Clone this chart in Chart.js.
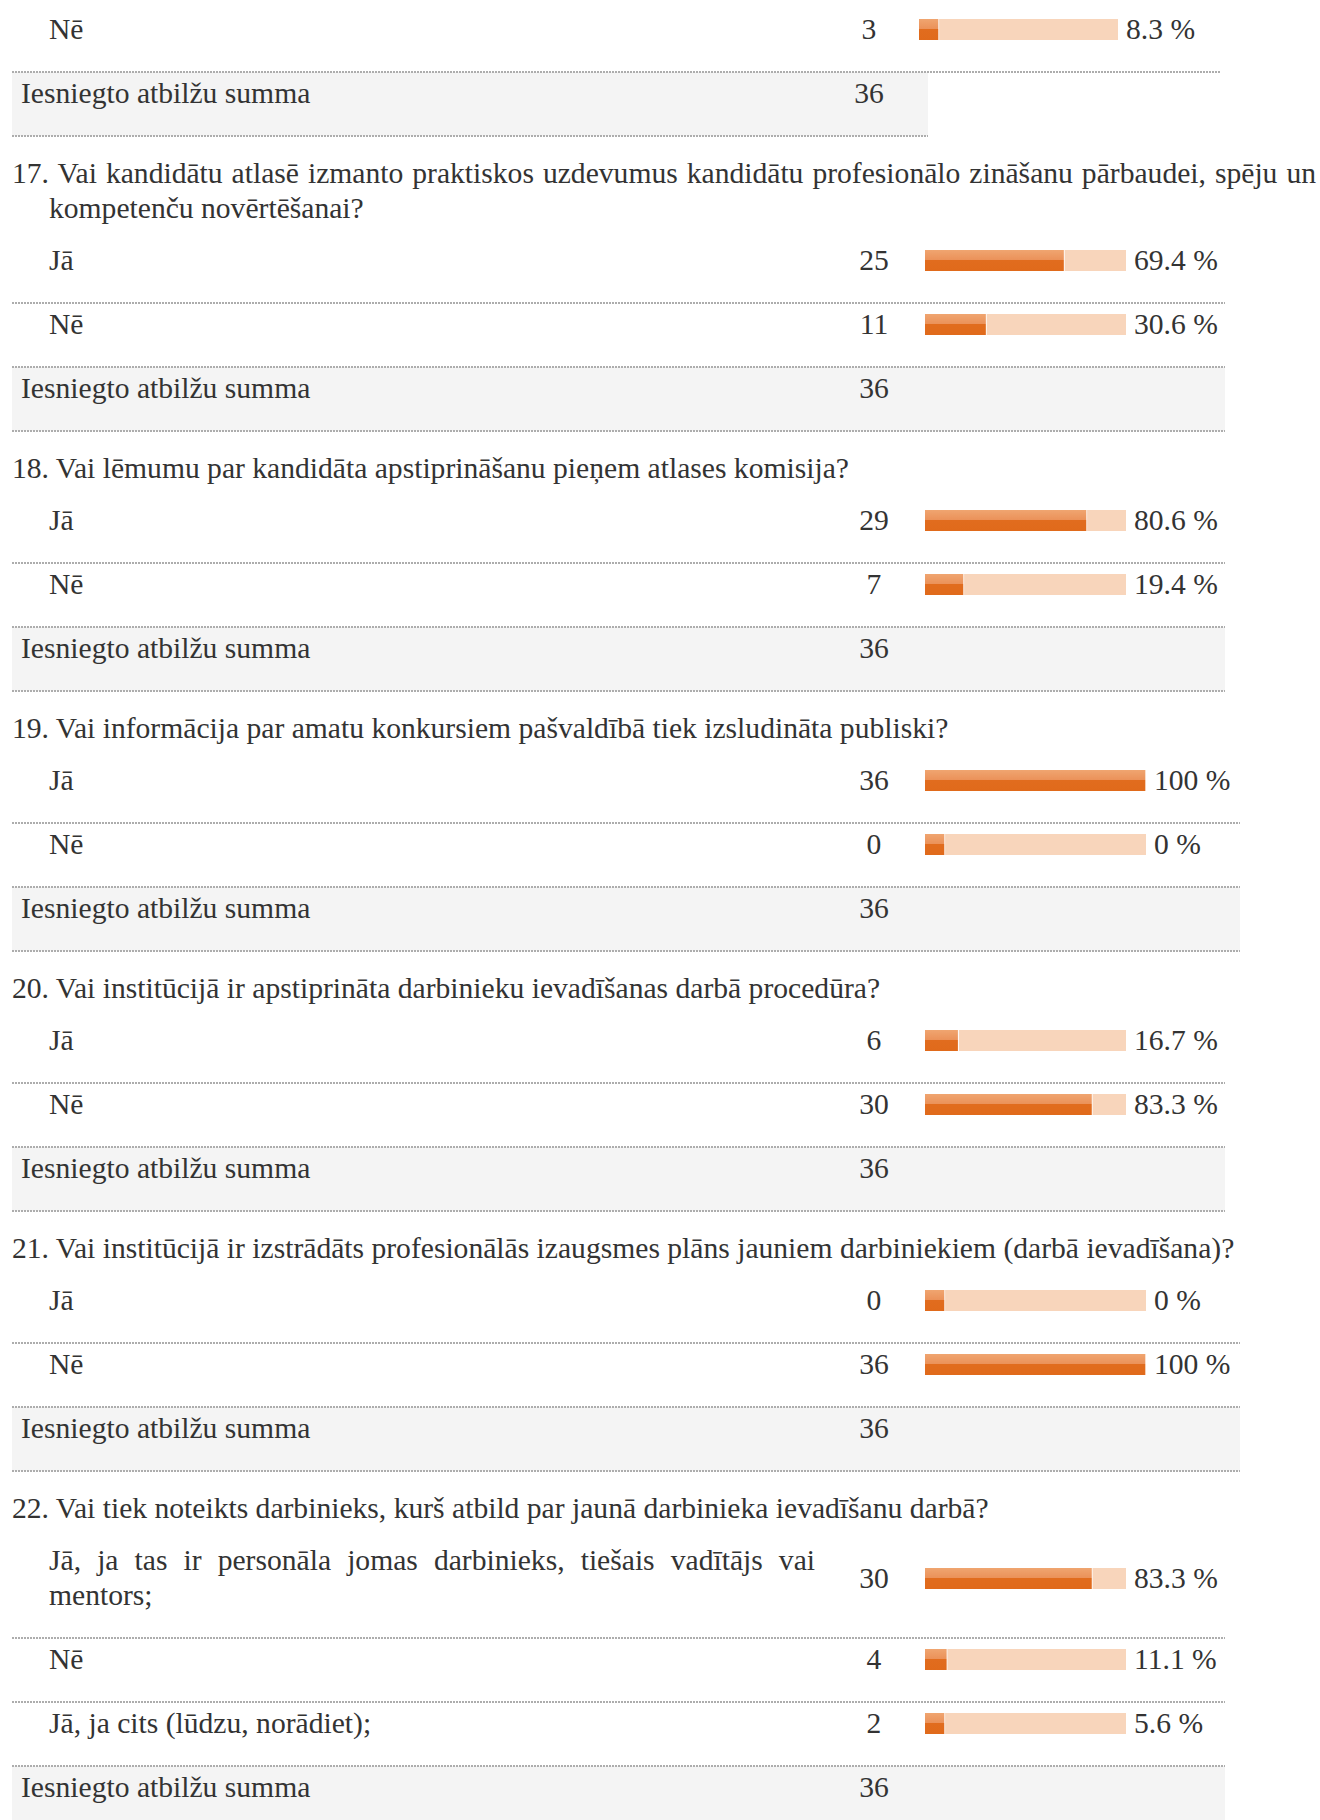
<!DOCTYPE html>
<html lang="lv">
<head>
<meta charset="utf-8">
<title>Aptaujas rezultāti</title>
<script src="https://cdn.jsdelivr.net/npm/chart.js@4.4.1/dist/chart.umd.min.js"></script>
<style>
	html, body { margin: 0; padding: 0; background: #fff; }
	body {
		width: 1320px;
		height: 1820px;
		overflow: hidden;
		font-family: "Liberation Serif", "Times New Roman", serif;
		font-size: 29.6px;
		color: #333;
	}
	#survey { padding-top: 8px; }
	.question {
		margin: 20px 4px 13px 12px;
		padding-left: 37px;
		text-indent: -37px;
		line-height: 35px;
		text-align: justify;
	}
	.answers { margin-left: 12px; }
	.row { position: relative; }
	.row .label {
		padding: 4px 0 25px 37px;
		width: 766px;
		line-height: 35px;
		text-align: justify;
	}
	.side { position: absolute; left: 0; top: 50%; height: 64px; margin-top: -32px; width: 100%; }
	.count { position: absolute; top: 4px; width: 80px; text-align: center; line-height: 35px; }
	.bar { position: absolute; top: 11px; height: 21px; }
	.pct { position: absolute; top: 4px; line-height: 35px; white-space: nowrap; }
	.total { position: relative; height: 64px; background: #f4f4f4; }
	.total .label { padding: 4px 0 0 9px; line-height: 35px; }
	.rule {
		position: relative;
		z-index: 1;
		height: 2px;
		margin: -1px 0;
		background: repeating-linear-gradient(90deg, #adadad 0 2px, transparent 2px 3px);
	}
</style>
</head>
<body>
<div id="survey"></div>

<script>
// Survey answers, question by question (the first block is the end of question 16)
const questions = [
	null,
	"17. Vai kandidātu atlasē izmanto praktiskos uzdevumus kandidātu profesionālo zināšanu pārbaudei, spēju un kompetenču novērtēšanai?",
	"18. Vai lēmumu par kandidāta apstiprināšanu pieņem atlases komisija?",
	"19. Vai informācija par amatu konkursiem pašvaldībā tiek izsludināta publiski?",
	"20. Vai institūcijā ir apstiprināta darbinieku ievadīšanas darbā procedūra?",
	"21. Vai institūcijā ir izstrādāts profesionālās izaugsmes plāns jauniem darbiniekiem (darbā ievadīšana)?",
	"22. Vai tiek noteikts darbinieks, kurš atbild par jaunā darbinieka ievadīšanu darbā?",
];
const answerLabels = [
	["Nē"],
	["Jā", "Nē"],
	["Jā", "Nē"],
	["Jā", "Nē"],
	["Jā", "Nē"],
	["Jā", "Nē"],
	["Jā, ja tas ir personāla jomas darbinieks, tiešais vadītājs vai mentors;", "Nē", "Jā, ja cits (lūdzu, norādiet);"],
];
const answerCounts = [[3], [25, 11], [29, 7], [36, 0], [6, 30], [0, 36], [30, 4, 2]];
const answerPercents = [[8.3], [69.4, 30.6], [80.6, 19.4], [100, 0], [16.7, 83.3], [0, 100], [83.3, 11.1, 5.6]];
const responseTotals = [36, 36, 36, 36, 36, 36, 36];
const totalLabel = "Iesniegto atbilžu summa";

// Table geometry for each block (page pixels)
const tableRight = [1220, 1225, 1225, 1240, 1225, 1240, 1225];
const totalRight = [928, 1225, 1225, 1240, 1225, 1240, 1225];
const countCenter = [869, 874, 874, 874, 874, 874, 874];
const barLeft = [919, 925, 925, 925, 925, 925, 925];
const barWidth = [199, 201, 201, 221, 201, 221, 201];
const TABLE_LEFT = 12;

const PEACH = "#f8d5bb";

function orangeFill(context) {
	const chart = context.chart;
	const area = chart.chartArea;
	if (!area) return "#e06a1b";
	const g = chart.ctx.createLinearGradient(0, area.top, 0, area.bottom);
	g.addColorStop(0, "#f0a570");
	g.addColorStop(0.46, "#eb925a");
	g.addColorStop(0.48, "#e16c1e");
	g.addColorStop(1, "#e06a1b");
	return g;
}

function initBar(canvas, label, pct) {
	new Chart(canvas.getContext("2d"), {
		type: "bar",
		data: {
			labels: [label],
			datasets: [
				{
					data: [pct],
					backgroundColor: orangeFill,
					borderColor: "#ffffff",
					borderWidth: { top: 0, right: 1, bottom: 0, left: 0 },
					borderSkipped: false,
					minBarLength: 20,
					grouped: false,
					order: 0,
				},
				{
					// full-width track behind the share
					data: [100],
					backgroundColor: PEACH,
					borderWidth: 0,
					grouped: false,
					order: 1,
				},
			],
		},
		options: {
			indexAxis: "y",
			responsive: false,
			animation: false,
			events: [],
			datasets: { bar: { barPercentage: 1, categoryPercentage: 1 } },
			scales: {
				x: { display: false, min: 0, max: 100 },
				y: { display: false },
			},
			plugins: {
				legend: { display: false },
				tooltip: { enabled: false },
			},
			layout: { padding: 0 },
		},
	});
}

function el(tag, cls, text) {
	const node = document.createElement(tag);
	if (cls) node.className = cls;
	if (text !== undefined) node.textContent = text;
	return node;
}

function rule(width) {
	const r = el("div", "rule");
	r.style.width = width + "px";
	return r;
}

document.addEventListener("DOMContentLoaded", function () {
	if (typeof Chart === "undefined") {
		console.error("Chart.js library not loaded");
		return;
	}
	const root = document.getElementById("survey");
	const bars = [];

	questions.forEach(function (q, i) {
		if (q) root.appendChild(el("div", "question", q));

		const table = el("div", "answers");
		const fullW = tableRight[i] - TABLE_LEFT;
		table.style.width = fullW + "px";

		answerLabels[i].forEach(function (label, j) {
			if (j > 0) table.appendChild(rule(fullW));
			const row = el("div", "row");
			row.appendChild(el("div", "label", label));

			const side = el("div", "side");
			const count = el("div", "count", String(answerCounts[i][j]));
			count.style.left = (countCenter[i] - TABLE_LEFT - 40) + "px";
			side.appendChild(count);

			const holder = el("div", "bar");
			holder.style.left = (barLeft[i] - TABLE_LEFT) + "px";
			holder.style.width = barWidth[i] + "px";
			const canvas = document.createElement("canvas");
			canvas.width = barWidth[i];
			canvas.height = 21;
			holder.appendChild(canvas);
			side.appendChild(holder);

			const pct = el("div", "pct", answerPercents[i][j] + " %");
			pct.style.left = (barLeft[i] + barWidth[i] + 8 - TABLE_LEFT) + "px";
			side.appendChild(pct);

			row.appendChild(side);
			table.appendChild(row);
			bars.push({ canvas: canvas, label: label, pct: answerPercents[i][j] });
		});

		const totalW = totalRight[i] - TABLE_LEFT;
		table.appendChild(rule(fullW));
		const total = el("div", "total");
		total.style.width = totalW + "px";
		total.appendChild(el("div", "label", totalLabel));
		const tc = el("div", "count", String(responseTotals[i]));
		tc.style.left = (countCenter[i] - TABLE_LEFT - 40) + "px";
		total.appendChild(tc);
		table.appendChild(total);
		table.appendChild(rule(totalW));

		root.appendChild(table);
	});

	bars.forEach(function (b) {
		initBar(b.canvas, b.label, b.pct);
	});
});
</script>
</body>
</html>
